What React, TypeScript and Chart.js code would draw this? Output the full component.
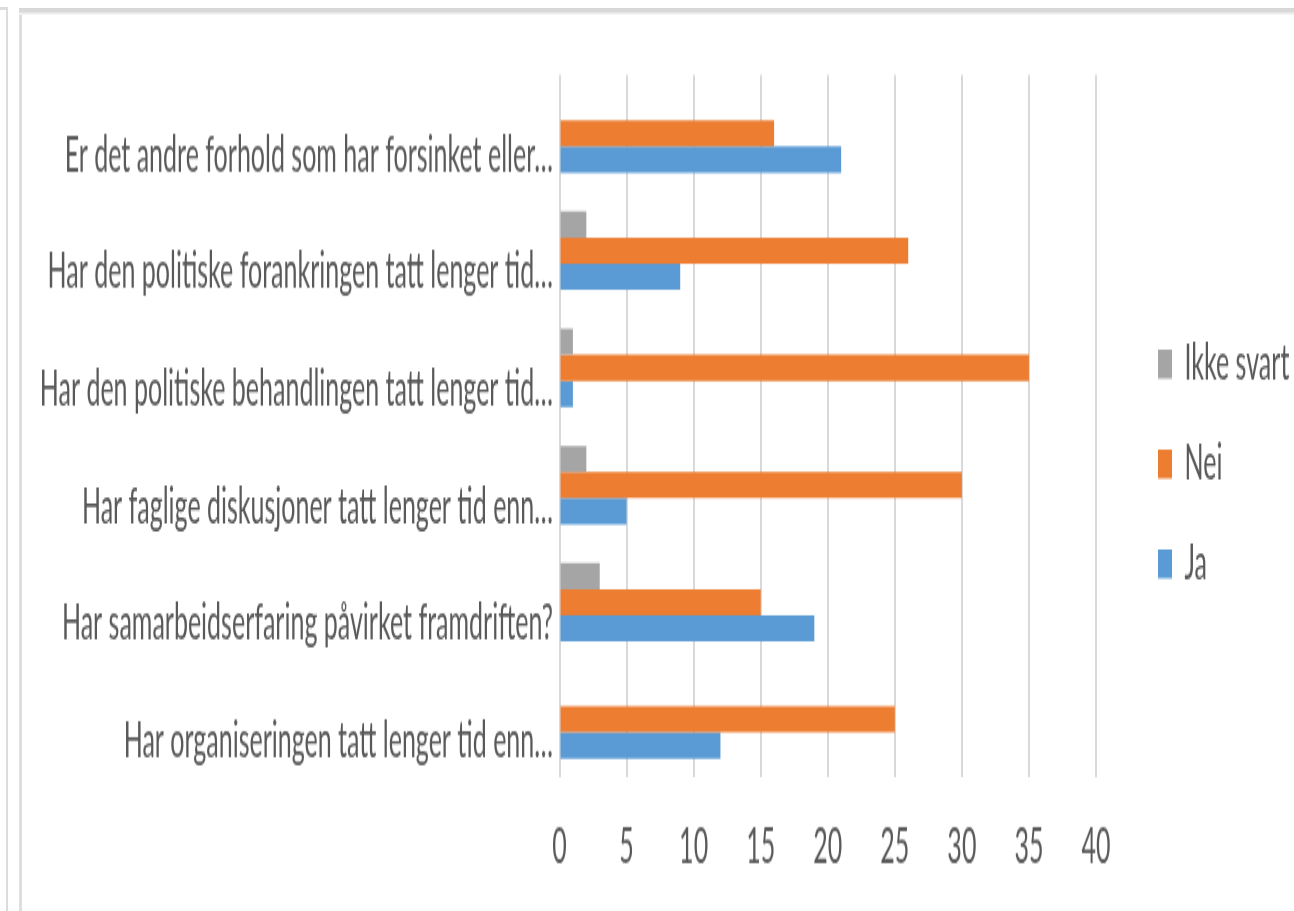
import React, { useEffect, useRef } from "react";
import { Chart, registerables } from "chart.js";

Chart.register(...registerables);

const categories = [
  "Er det andre forhold som har forsinket eller…",
  "Har den politiske forankringen tatt lenger tid…",
  "Har den politiske behandlingen tatt lenger tid…",
  "Har faglige diskusjoner tatt lenger tid enn…",
  "Har samarbeidserfaring påvirket framdriften?",
  "Har organiseringen tatt lenger tid enn…",
];
const seriesNames = ["Ikke svart", "Nei", "Ja"];
const ikkeSvart = [0, 2, 1, 2, 3, 0];
const nei = [16, 26, 35, 30, 15, 25];
const ja = [21, 9, 1, 5, 19, 12];
const xMin = 0;
const xMax = 40;
const xStep = 5;

const colors = ["#a5a5a5", "#ed7d31", "#5b9bd5"];
const FONT = "Lato, 'Open Sans', sans-serif";
const TEXT = "#595959";
const W = 1294;
const H = 456;
const S = 911 / H;

export default function App() {
  const ref = useRef<HTMLCanvasElement | null>(null);

  useEffect(() => {
    if (!ref.current) return;
    const chart = new Chart(ref.current, {
      type: "bar",
      data: {
        labels: categories,
        datasets: [ikkeSvart, nei, ja].map((d, i) => ({
          label: seriesNames[i],
          data: d,
          backgroundColor: colors[i],
          borderWidth: 0,
          categoryPercentage: 0.67,
          barPercentage: 1,
        })),
      },
      options: {
        indexAxis: "y",
        responsive: false,
        animation: false,
        devicePixelRatio: 1,
        layout: { padding: { top: 8.4, bottom: 0, left: 0, right: 0 } },
        plugins: {
          tooltip: { enabled: false },
          title: { display: false },
          legend: {
            position: "right",
            maxWidth: 161,
            labels: {
              boxWidth: 14,
              boxHeight: 14.5,
              padding: 25,
              color: TEXT,
              font: { family: FONT, size: 25 },
            },
          },
        },
        scales: {
          x: {
            type: "linear",
            position: "bottom",
            min: xMin,
            max: xMax,
            ticks: {
              stepSize: xStep,
              color: TEXT,
              padding: 19.4,
              font: { family: FONT, size: 25 },
            },
            grid: { color: "#d9d9d9", lineWidth: 2, drawTicks: false },
            border: { display: false },
            afterFit: (s: any) => {
              s.height = 66.6;
            },
          },
          topGap: {
            type: "linear",
            axis: "x",
            position: "top",
            display: true,
            ticks: { display: false },
            grid: { display: false, drawTicks: false },
            border: { display: false },
            afterFit: (s: any) => {
              s.height = 29.1;
            },
          },
          y: {
            type: "category",
            ticks: {
              color: TEXT,
              padding: 6.5,
              font: { family: FONT, size: 25, lineHeight: 0.86 },
              callback: function (this: any, value: any) {
                return ["", this.getLabelForValue(value)];
              },
            },
            grid: { display: false, drawTicks: false },
            border: { display: false },
            afterFit: (s: any) => {
              s.width = 559.5;
            },
          },
          rightGap: {
            type: "linear",
            axis: "y",
            position: "right",
            display: true,
            ticks: { display: false },
            grid: { display: false, drawTicks: false },
            border: { display: false },
            afterFit: (s: any) => {
              s.width = 37;
            },
          },
        },
      },
    } as any);
    return () => chart.destroy();
  }, []);

  return (
    <div
      style={{
        position: "fixed",
        left: 0,
        top: 0,
        width: W,
        height: 911,
        background: "#ffffff",
        overflow: "hidden",
      }}
    >
      <div style={{ position: "absolute", left: 0, top: 7, width: 8, height: 3, background: "#dcdcdc" }} />
      <div style={{ position: "absolute", left: 6, top: 7, width: 2, height: 904, background: "#dcdcdc" }} />
      <div style={{ position: "absolute", left: 19, top: 8, width: 3, height: 903, background: "#dedede" }} />
      <div
        style={{
          position: "absolute",
          left: 19,
          top: 8,
          width: W - 19,
          height: 7,
          background: "linear-gradient(#d6d6d6 0%, #dadada 55%, #eeeeee 75%, #f6f6f6 100%)",
        }}
      />
      <canvas
        ref={ref}
        width={W}
        height={H}
        style={{
          position: "absolute",
          left: 0,
          top: 0,
          width: W,
          height: H,
          transform: `scaleY(${S})`,
          transformOrigin: "0 0",
        }}
      />
    </div>
  );
}
